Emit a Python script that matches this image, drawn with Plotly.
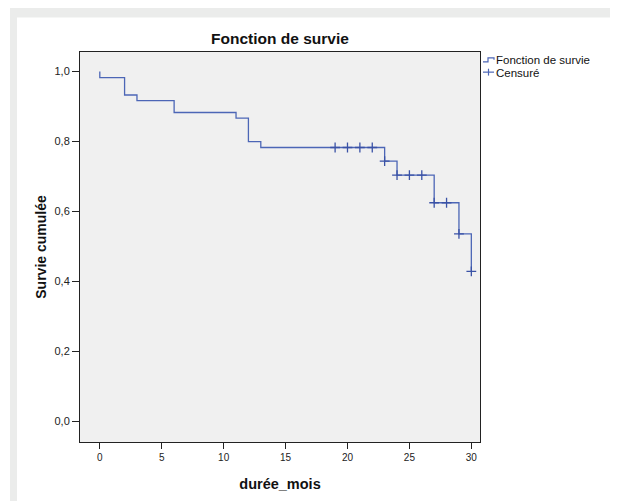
import plotly.graph_objects as go

# Kaplan-Meier step function (time in months, cumulative survival)
step_times = [0, 0, 2, 3, 6, 11, 12, 13, 23, 24, 27, 29, 30]
step_surv = [1.0, 0.983, 0.933, 0.917, 0.883, 0.867, 0.800, 0.783, 0.744, 0.704, 0.625, 0.536, 0.429]

# Censored observations
cens_times = [19, 20, 21, 22, 23, 24, 25, 26, 27, 28, 29, 30]
cens_surv = [0.783, 0.783, 0.783, 0.783, 0.744, 0.704, 0.704, 0.704, 0.625, 0.625, 0.536, 0.429]

x_ticks = [0, 5, 10, 15, 20, 25, 30]
y_ticks = [0.0, 0.2, 0.4, 0.6, 0.8, 1.0]

LINE = "#4C66B6"
MARK = "#3A52A6"
FONT = "Liberation Sans, Arial, sans-serif"

# break censored points so no connecting line is drawn
cx, cy = [], []
for t, s in zip(cens_times, cens_surv):
    cx += [t, None]
    cy += [s, None]

fig = go.Figure()
fig.add_trace(go.Scatter(
    x=step_times, y=step_surv, mode="lines", line=dict(shape="hv", color=LINE, width=1.3),
    name="Fonction de survie", showlegend=False, hoverinfo="x+y"))
fig.add_trace(go.Scatter(
    x=cx, y=cy, mode="markers", connectgaps=False,
    marker=dict(symbol="cross-thin", size=7, line=dict(color=MARK, width=1.3)),
    name="Censuré", showlegend=False, hoverinfo="x+y"))

# The page body has an 8px margin: figure is drawn 8px right/down.
OFF = 8
FW, FH = 618 - OFF, 501 - OFF
# plot area in page pixels
L, R, T, B = 80, 480, 52, 449
W, H = R - L, B - T
def px(x): return (x - L) / W
def py(y): return (B - y) / H

shapes = [
    dict(type="rect", xref="paper", yref="paper", x0=px(10), x1=px(630), y0=py(520), y1=py(4),
         fillcolor="#EBECEB", line=dict(width=0), layer="below"),
    dict(type="rect", xref="paper", yref="paper", x0=px(17), x1=px(614), y0=py(520), y1=py(17),
         fillcolor="#FFFFFF", line=dict(width=0), layer="below"),
    dict(type="rect", xref="paper", yref="paper", x0=0, x1=1, y0=0, y1=1,
         fillcolor="#F0F0F0", line=dict(width=0), layer="below"),
    # legend glyph: step
    dict(type="path", xref="paper", yref="paper",
         path=f"M {px(483)} {py(62)} L {px(488)} {py(62)} L {px(488)} {py(58)} L {px(494)} {py(58)} L {px(494)} {py(60)}",
         line=dict(color=LINE, width=1.2)),
    # legend glyph: censored
    dict(type="line", xref="paper", yref="paper", x0=px(483), x1=px(494), y0=py(72.5), y1=py(72.5),
         line=dict(color=LINE, width=1.2)),
    dict(type="line", xref="paper", yref="paper", x0=px(488.5), x1=px(488.5), y0=py(69), y1=py(76),
         line=dict(color=LINE, width=1.2)),
]

annotations = [
    dict(text="Fonction de survie", xref="paper", yref="paper", x=px(494), y=py(60),
         xanchor="left", yanchor="middle", showarrow=False, font=dict(family=FONT, size=11.5, color="#111")),
    dict(text="Censuré", xref="paper", yref="paper", x=px(494), y=py(73),
         xanchor="left", yanchor="middle", showarrow=False, font=dict(family=FONT, size=11.5, color="#111")),
]

fig.update_layout(
    width=FW, height=FH,
    margin=dict(l=L - OFF, r=618 - R, t=T - OFF, b=501 - B, pad=0),
    paper_bgcolor="#FFFFFF", plot_bgcolor="rgba(0,0,0,0)",
    separators=", ",
    font=dict(family=FONT, color="#222"),
    title=dict(text="<b>Fonction de survie</b>", x=((L + R) / 2 - OFF) / FW, xanchor="center",
               y=1 - (39 - OFF) / FH, yanchor="middle", font=dict(family=FONT, size=15.5, color="#111")),
    showlegend=False,
    shapes=shapes, annotations=annotations,
)
fig.update_xaxes(
    range=[-1.6, 30.7], tickvals=x_ticks, ticks="outside", ticklen=6, tickwidth=1, tickcolor="#222",
    showgrid=False, zeroline=False, showline=True, linecolor="#222", linewidth=1, mirror=True,
    tickfont=dict(family=FONT, size=10, color="#222"),
    title=dict(text="<b>durée_mois</b>", font=dict(family=FONT, size=14.5, color="#111"), standoff=16),
)
fig.update_yaxes(
    range=[-0.059, 1.056], tickvals=y_ticks, tickformat=".1f", ticks="outside", ticklen=7, tickwidth=1,
    tickcolor="#222", showgrid=False, zeroline=False, showline=True, linecolor="#222", linewidth=1, mirror=True,
    tickfont=dict(family=FONT, size=11, color="#222"),
    title=dict(text="<b>Survie cumulée</b>", font=dict(family=FONT, size=14, color="#111"), standoff=4),
)

fig.write_html("out.html")
